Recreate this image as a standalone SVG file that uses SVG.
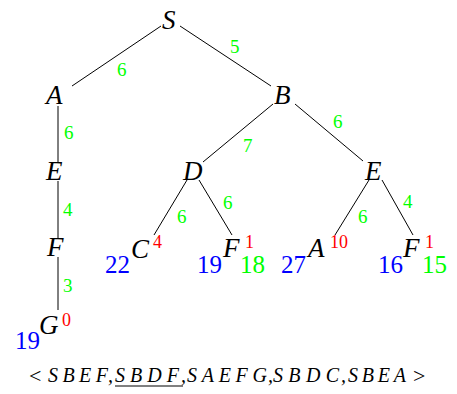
<svg xmlns="http://www.w3.org/2000/svg" width="457" height="394" viewBox="0 0 457 394">
<style>
.n{font-family:"Liberation Serif",serif;font-style:italic;font-size:27px;fill:#000}
.w{font-family:"Liberation Serif",serif;font-size:19px;fill:#00ff00}
.h{font-family:"Liberation Serif",serif;font-size:18px;fill:#ff0000}
.g{font-family:"Liberation Serif",serif;font-size:25px;fill:#0000ff}
.f{font-family:"Liberation Serif",serif;font-size:25px;fill:#00ff00}
.e line{stroke:#000;stroke-width:1}
.p{font-family:"Liberation Serif",serif;font-style:italic;font-size:20px;fill:#000}
.q{font-family:"Liberation Serif",serif;font-size:22px;fill:#000}
</style>
<rect width="457" height="394" fill="#fff"/>
<g id="edges" class="e">
<line x1="161" y1="26" x2="72" y2="86"/>
<line x1="180" y1="26" x2="271" y2="86"/>
<line x1="58" y1="106" x2="58" y2="162"/>
<line x1="58" y1="181" x2="58" y2="238"/>
<line x1="58" y1="257" x2="58" y2="310"/>
<line x1="273" y1="104" x2="203" y2="162"/>
<line x1="295" y1="104" x2="363" y2="161"/>
<line x1="187" y1="180" x2="154" y2="235"/>
<line x1="199" y1="180" x2="232" y2="235"/>
<line x1="369" y1="180" x2="335" y2="235"/>
<line x1="382" y1="180" x2="413" y2="235"/>
</g>
<g id="edge-labels">
<text class="w" x="117" y="76">6</text>
<text class="w" x="230" y="53">5</text>
<text class="w" x="64" y="139">6</text>
<text class="w" x="63" y="216">4</text>
<text class="w" x="63" y="292">3</text>
<text class="w" x="243" y="152">7</text>
<text class="w" x="333" y="128">6</text>
<text class="w" x="177" y="223">6</text>
<text class="w" x="223" y="209">6</text>
<text class="w" x="358" y="223">6</text>
<text class="w" x="403" y="208">4</text>
</g>
<g id="node-S"><text class="n" x="162" y="29">S</text></g>
<g id="node-A1"><text class="n" x="46" y="104">A</text></g>
<g id="node-B"><text class="n" x="274" y="104">B</text></g>
<g id="node-E1"><text class="n" x="46" y="180">E</text></g>
<g id="node-F1"><text class="n" x="47" y="256">F</text></g>
<g id="node-G">
<text class="n" x="39" y="334">G</text>
<text class="h" x="62" y="326">0</text>
<text class="g" x="15" y="349">19</text>
</g>
<g id="node-D"><text class="n" x="183" y="180">D</text></g>
<g id="node-E2"><text class="n" x="365" y="180">E</text></g>
<g id="node-C">
<text class="n" x="131" y="258">C</text>
<text class="h" x="153" y="248">4</text>
<text class="g" x="105" y="273">22</text>
</g>
<g id="node-F2">
<text class="n" x="223" y="257">F</text>
<text class="h" x="245" y="248">1</text>
<text class="g" x="197" y="273">19</text>
<text class="f" x="240" y="273">18</text>
</g>
<g id="node-A2">
<text class="n" x="308" y="257">A</text>
<text class="h" x="330" y="248">10</text>
<text class="g" x="281" y="273">27</text>
</g>
<g id="node-F3">
<text class="n" x="403" y="257">F</text>
<text class="h" x="425" y="248">1</text>
<text class="g" x="378" y="273">16</text>
<text class="f" x="422" y="273">15</text>
</g>
<g id="paths">
<text class="q" x="29" y="383">&lt;</text>
<text class="p" x="48" y="382" textLength="60" lengthAdjust="spacing">SBEF</text>
<text class="p" x="108" y="382">,</text>
<text class="p" x="115" y="382" textLength="64" lengthAdjust="spacing">SBDF</text>
<text class="p" x="181" y="382">,</text>
<text class="p" x="187" y="382" textLength="80" lengthAdjust="spacing">SAEFG</text>
<text class="p" x="268" y="382">,</text>
<text class="p" x="273" y="382" textLength="66" lengthAdjust="spacing">SBDC</text>
<text class="p" x="341" y="382">,</text>
<text class="p" x="348" y="382" textLength="58" lengthAdjust="spacing">SBEA</text>
<text class="q" x="413" y="383">&gt;</text>
<line x1="115" y1="386" x2="183" y2="386" stroke="#000" stroke-width="1"/>
</g>
</svg>
